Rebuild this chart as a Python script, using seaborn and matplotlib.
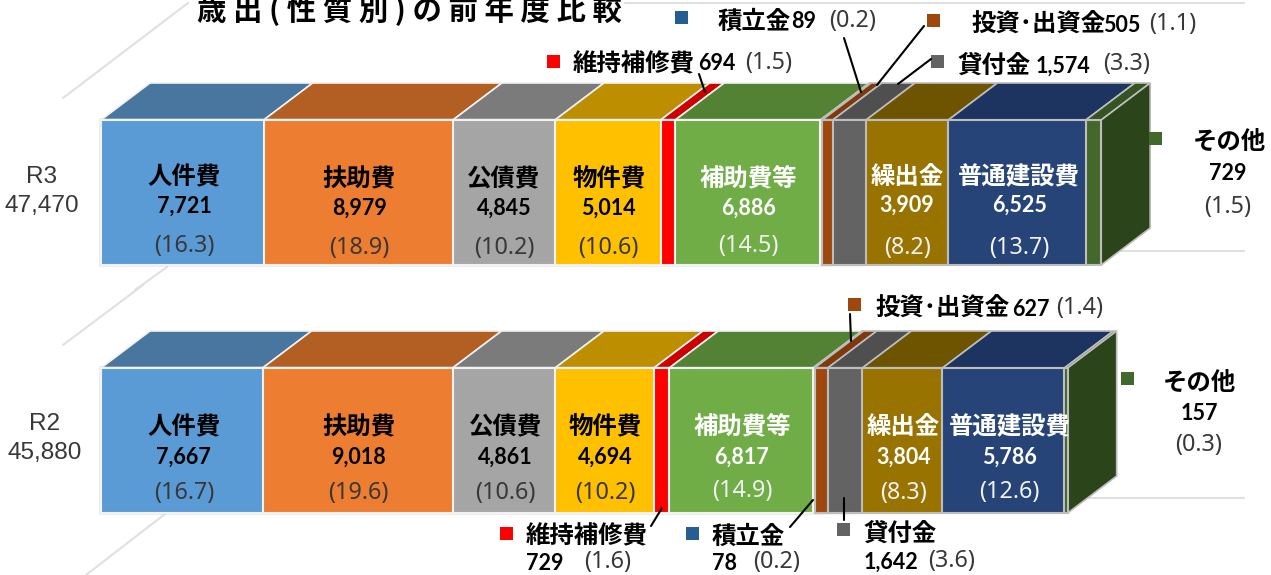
import numpy as np
import pandas as pd
import matplotlib.pyplot as plt
from matplotlib.patches import Rectangle
from matplotlib.transforms import Affine2D
import seaborn as sns

# donnees
title = '歳 出 ( 性 質 別 ) の 前 年 度 比 較'
years = ['R3', 'R2']
totals = [47470, 45880]
items = ['人件費', '扶助費', '公債費', '物件費', '維持補修費', '補助費等',
         '積立金', '投資･出資金', '貸付金', '繰出金', '普通建設費', 'その他']
r3_values = [7721, 8979, 4845, 5014, 694, 6886, 89, 505, 1574, 3909, 6525, 729]
r2_values = [7667, 9018, 4861, 4694, 729, 6817, 78, 627, 1642, 3804, 5786, 157]
r3_shares = [16.3, 18.9, 10.2, 10.6, 1.5, 14.5, 0.2, 1.1, 3.3, 8.2, 13.7, 1.5]
r2_shares = [16.7, 19.6, 10.6, 10.2, 1.6, 14.9, 0.2, 1.4, 3.6, 8.3, 12.6, 0.3]

front_colors = ['#5b9bd5', '#ed7d31', '#a5a5a5', '#ffc000', '#ff0000', '#70ad47',
                '#255e91', '#9e480e', '#636363', '#997300', '#264478', '#43682b']
top_colors = ['#48769f', '#b35e22', '#7b7b7b', '#bd8e00', '#cc0000', '#548235',
              '#1d4a73', '#7f3a0b', '#4f4f4f', '#6e5400', '#1d3360', '#365423']
edge_colors = ['#f2f2f2'] * 6 + ['#bdbdbd'] * 6
side_color = '#2b4419'
text_dark = '#383838'

CJK = ['Noto Sans CJK JP', 'DejaVu Sans']

sns.set_theme(style='white')
plt.rcParams['font.family'] = CJK

fig = plt.figure(figsize=(12.71, 5.75), dpi=100)
ax = fig.add_axes([0, 0, 1, 1])

cum = np.array([np.cumsum(r3_values), np.cumsum(r2_values)])

# echelles : 1 unite = px_per_value pixels, categories espacees de 248 px
px_per_value = 0.02107
row_px = 248
depth_x = 49 / px_per_value
depth_y = 37 / row_px
bar_width = 145 / row_px

# repere en pixels pour tout ce qui est annotation
px = Affine2D().scale(1, -1).translate(0, 575)

# lignes de fond
for x0, y0, x1, y1 in [(63, 98, 188, 3), (135, 290, 167, 267), (63, 345, 143, 285),
                       (86, 575, 165, 514), (625, 3, 1244, 3), (1100, 251, 1244, 251),
                       (1066, 498, 1244, 498)]:
    ax.plot([x0, x1], [y0, y1], color='#e0e0e0', lw=1.5, transform=px, zorder=0)

# faces du dessus et cote droit
for row in range(2):
    left = 0
    for i in range(len(items)):
        right = cum[row][i]
        ax.fill([left, right, right + depth_x, left + depth_x],
                [row - bar_width / 2, row - bar_width / 2,
                 row - bar_width / 2 - depth_y, row - bar_width / 2 - depth_y],
                facecolor=top_colors[i], edgecolor=edge_colors[i], lw=1.2, zorder=1)
        left = right
    end = cum[row][-1]
    ax.fill([end, end + depth_x, end + depth_x, end],
            [row - bar_width / 2, row - bar_width / 2 - depth_y,
             row + bar_width / 2 - depth_y, row + bar_width / 2],
            facecolor=side_color, edgecolor='#bdbdbd', lw=1.2, zorder=1)

# faces avant : cumuls du plus grand au plus petit
for i in reversed(range(len(items))):
    df = pd.DataFrame({'year': years, 'cum': cum[:, i]})
    sns.barplot(data=df, x='cum', y='year', color=front_colors[i], saturation=1,
                width=bar_width, edgecolor=edge_colors[i], linewidth=1.5,
                errorbar=None, ax=ax, zorder=2)

ax.set_xlim(-101 / px_per_value, (1271 - 101) / px_per_value)
ax.set_ylim((575 - 192.5) / row_px, -192.5 / row_px)
ax.set_axis_off()


def put(x, y, s, kind='name', color='black', ha='center'):
    if kind == 'name':
        kw = dict(fontsize=17.6, fontweight='bold', family=CJK)
        y += 2
    elif kind == 'value':
        kw = dict(fontsize=15.5, fontweight='bold', family=['Lato', 'DejaVu Sans'])
        y += 1
    else:
        kw = dict(fontsize=16.8, family=['Noto Sans', 'DejaVu Sans'], fontweight='light')
        y += 1
    ax.text(x, y, s, transform=px, ha=ha, va='center', color=color, zorder=5, **kw)


ax.text(197, 20, title, transform=px, fontsize=21.2, fontweight='bold', family=CJK,
        color='black', ha='left', va='baseline', zorder=5)

# totaux a gauche
for label, total, x, y0, y1 in [(years[0], totals[0], 42, 177, 206),
                                (years[1], totals[1], 45, 424, 453)]:
    ax.text(x, y0, label, transform=px, fontsize=17.6, family=['Liberation Sans'],
            color=text_dark, ha='center', va='center')
    ax.text(x, y1, f'{total:,}', transform=px, fontsize=17.6, family=['Liberation Sans'],
            color=text_dark, ha='center', va='center')

# etiquettes dans les barres : segment, decalage x, y nom, y valeur, y part
r3_labels = [(0, 2, 175, 205, 245), (1, 1, 177, 207, 247), (2, 0, 177, 207, 247),
             (3, 1, 177, 207, 247), (5, 1, 177, 207, 245), (9, 0, 175, 204, 247),
             (10, 2, 175, 204, 247)]
r2_labels = [(0, 2, 425, 456, 492), (1, 1, 425, 456, 492), (2, 2, 425, 456, 492),
             (3, 1, 425, 456, 492), (5, 1, 425, 456, 490), (9, 1, 425, 456, 492),
             (10, 6, 425, 456, 491)]
for row, labels, values, shares in [(0, r3_labels, r3_values, r3_shares),
                                    (1, r2_labels, r2_values, r2_shares)]:
    for i, dx, yn, yv, ys in labels:
        start = cum[row][i - 1] if i > 0 else 0
        xc = 101 + (start + cum[row][i]) / 2 * px_per_value + dx
        white = i in (5, 9, 10)
        put(xc, yn, items[i], 'name', 'white' if white else 'black')
        put(xc, yv, f'{values[i]:,}', 'value', 'white' if white else 'black')
        put(xc, ys, f'({shares[i]})', 'share', '#f2f2f2' if white else text_dark)

# petites legendes : carre x, carre y, texte
squares = [(4, 547, 55), (6, 675, 11), (7, 927, 14), (8, 931, 55), (11, 1149, 132),
           (7, 848, 298), (11, 1121, 372), (4, 500, 527), (6, 686, 527), (8, 837, 523)]
for i, x, y in squares:
    ax.add_patch(Rectangle((x, y), 13, 13, facecolor=front_colors[i], edgecolor='none',
                           transform=px, zorder=5))

put(573, 62, items[4], ha='left')
put(698, 63, str(r3_values[4]), 'value', ha='left')
put(745, 62, f'({r3_shares[4]})', 'share', text_dark, ha='left')
put(718, 20, items[6], ha='left')
put(791, 21, str(r3_values[6]), 'value', ha='left')
put(829, 20, f'({r3_shares[6]})', 'share', text_dark, ha='left')
put(971, 23, items[7], ha='left')
put(1103, 24, str(r3_values[7]), 'value', ha='left')
put(1149, 23, f'({r3_shares[7]})', 'share', text_dark, ha='left')
put(958, 64, items[8], ha='left')
put(1036, 65, f'{r3_values[8]:,}', 'value', ha='left')
put(1103, 63, f'({r3_shares[8]})', 'share', text_dark, ha='left')
put(1229, 140, items[11])
put(1228, 173, str(r3_values[11]), 'value')
put(1228, 206, f'({r3_shares[11]})', 'share', text_dark)

put(875, 307, items[7], ha='left')
put(1012, 308, str(r2_values[7]), 'value', ha='left')
put(1056, 307, f'({r2_shares[7]})', 'share', text_dark, ha='left')
put(1199, 381, items[11])
put(1199, 412, str(r2_values[11]), 'value')
put(1199, 444, f'({r2_shares[11]})', 'share', text_dark)
put(526, 534, items[4], ha='left')
put(526, 563, str(r2_values[4]), 'value', ha='left')
put(584, 561, f'({r2_shares[4]})', 'share', text_dark, ha='left')
put(712, 535, items[6], ha='left')
put(712, 563, str(r2_values[6]), 'value', ha='left')
put(753, 561, f'({r2_shares[6]})', 'share', text_dark, ha='left')
put(864, 532, items[8], ha='left')
put(864, 561, f'{r2_values[8]:,}', 'value', ha='left')
put(928, 560, f'({r2_shares[8]})', 'share', text_dark, ha='left')

# traits de rappel
for x0, y0, x1, y1 in [(699, 74, 705, 92), (844, 38, 861, 92), (924, 26, 877, 85),
                       (931, 59, 898, 84), (850, 314, 851, 341), (651, 526, 662, 508),
                       (790, 527, 813, 500), (844, 498, 844, 520)]:
    ax.plot([x0, x1], [y0, y1], color='black', lw=1.5, transform=px, zorder=6)

fig.savefig('out.png', dpi=100)
